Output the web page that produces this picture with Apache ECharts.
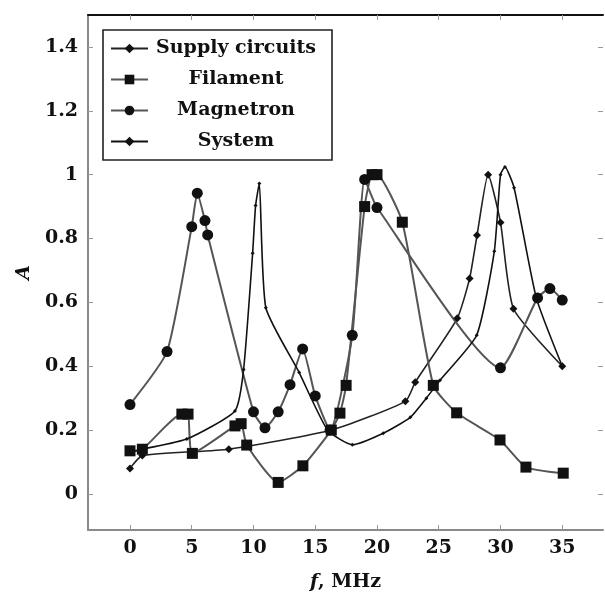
<!DOCTYPE html>
<html>
<head>
<meta charset="utf-8">
<title>A(f)</title>
<script src="https://cdn.jsdelivr.net/npm/echarts@6/dist/echarts.min.js"></script>
<style>
  html, body { margin: 0; padding: 0; background: #fff; }
  #chart { width: 605px; height: 597px; }
</style>
</head>
<body>
<div id="chart"></div>
<script>
// values
var supplyF   = [0, 1, 8, 16.3, 22.3, 23.1, 26.5, 27.5, 28.1, 29.0, 30.0, 31.05, 35];
var supplyA   = [0.08, 0.12, 0.14, 0.2, 0.29, 0.35, 0.55, 0.675, 0.81, 1.0, 0.85, 0.58, 0.4];

var filamentF = [0, 1, 4.2, 4.7, 5.05, 8.5, 9.0, 9.45, 12, 14, 16.3, 17, 17.5, 19, 19.6, 20, 22.05, 24.56, 26.45, 29.96, 32.06, 35.08];
var filamentA = [0.135, 0.14, 0.25, 0.25, 0.127, 0.213, 0.22, 0.153, 0.036, 0.088, 0.2, 0.253, 0.34, 0.9, 1.0, 1.0, 0.851, 0.34, 0.254, 0.169, 0.084, 0.065];

var magnetronF = [0, 3, 5, 5.45, 6.07, 6.29, 10, 10.93, 12, 12.96, 13.98, 15, 16.2, 18, 19, 20, 30, 33, 34, 35];
var magnetronA = [0.28, 0.446, 0.837, 0.942, 0.856, 0.811, 0.257, 0.207, 0.257, 0.342, 0.454, 0.307, 0.2, 0.497, 0.985, 0.897, 0.395, 0.614, 0.643, 0.607];

var systemF = [0, 1, 4.6, 8.5, 9.2, 9.93, 10.17, 10.47, 11.0, 13.7, 16.0, 18.0, 20.5, 22.7, 24.0, 25.1, 28.07, 29.5, 30.0, 30.36, 31.1, 32.9, 35];
var systemA = [0.13, 0.14, 0.172, 0.26, 0.39, 0.754, 0.903, 0.972, 0.583, 0.38, 0.2, 0.154, 0.19, 0.24, 0.30, 0.356, 0.497, 0.76, 1.0, 1.024, 0.959, 0.614, 0.4];

var xTicks = [0, 5, 10, 15, 20, 25, 30, 35];
var yTicks = [0, 0.2, 0.4, 0.6, 0.8, 1, 1.2, 1.4];

function pairs(f, a) {
    return f.map(function (v, i) { return [v, a[i]]; });
}

var font = 'DejaVu Serif';
var chart = echarts.init(document.getElementById('chart'));

var xMin = -3.4, xMax = 38.3;
var yMin = -0.113, yMax = 1.5;

function lineSeries(name, data, symbol, size, color, width) {
    return {
        name: name,
        type: 'line',
        data: data,
        smooth: 0.18,
        symbol: symbol,
        symbolSize: size,
        itemStyle: { color: '#111' },
        lineStyle: { color: color, width: width },
        z: 3
    };
}

var option = {
    animation: false,
    backgroundColor: '#fff',
    grid: { left: 88, right: 2, top: 15, bottom: 63 },
    legend: {
        orient: 'vertical',
        left: 103,
        top: 30,
        padding: [9, 13, 9, 7],
        itemGap: 12,
        itemWidth: 37,
        itemHeight: 12,
        backgroundColor: '#fff',
        borderColor: '#222',
        borderWidth: 1.6,
        data: ['Supply circuits', 'Filament', 'Magnetron', 'System'],
        formatter: '{c|{name}}',
        textStyle: {
            rich: {
                c: {
                    width: 166,
                    align: 'center',
                    lineHeight: 21,
                    fontFamily: font,
                    fontWeight: 'bold',
                    fontSize: 19,
                    color: '#111'
                }
            }
        }
    },
    xAxis: [
        {
            type: 'value',
            position: 'bottom',
            min: xMin,
            max: xMax,
            name: '{i|f}, MHz',
            nameLocation: 'middle',
            nameGap: 43,
            nameTextStyle: {
                fontFamily: font, fontWeight: 'bold', fontSize: 19, color: '#111',
                rich: { i: { fontStyle: 'italic', fontFamily: font, fontWeight: 'bold', fontSize: 19, color: '#111' } }
            },
            axisLine: { show: true, onZero: false, lineStyle: { color: '#8a8a8a', width: 2 } },
            axisTick: { show: true, inside: true, length: 5, customValues: xTicks, lineStyle: { color: '#999' } },
            axisLabel: { customValues: xTicks, margin: 9, fontFamily: font, fontWeight: 'bold', fontSize: 19, color: '#111' },
            splitLine: { show: false }
        },
        {
            type: 'value',
            position: 'top',
            min: xMin,
            max: xMax,
            axisLine: { show: true, onZero: false, lineStyle: { color: '#111', width: 2 } },
            axisTick: { show: true, inside: true, length: 5, customValues: xTicks, lineStyle: { color: '#999' } },
            axisLabel: { show: false },
            splitLine: { show: false }
        }
    ],
    yAxis: [
        {
            type: 'value',
            position: 'left',
            min: yMin,
            max: yMax,
            name: 'A',
            nameLocation: 'middle',
            nameGap: 51,
            nameTextStyle: { fontFamily: font, fontStyle: 'italic', fontWeight: 'bold', fontSize: 19, color: '#111' },
            axisLine: { show: true, onZero: false, lineStyle: { color: '#8a8a8a', width: 2 } },
            axisTick: { show: true, inside: true, length: 5, customValues: yTicks, lineStyle: { color: '#999' } },
            axisLabel: { customValues: yTicks, margin: 10, fontFamily: font, fontWeight: 'bold', fontSize: 19, color: '#111' },
            splitLine: { show: false }
        },
        {
            type: 'value',
            position: 'right',
            min: yMin,
            max: yMax,
            axisLine: { show: false, onZero: false },
            axisTick: { show: true, inside: true, length: 5, customValues: yTicks, lineStyle: { color: '#999' } },
            axisLabel: { show: false },
            splitLine: { show: false }
        }
    ],
    series: [
        lineSeries('Supply circuits', pairs(supplyF, supplyA), 'diamond', 8, '#222', 1.6),
        lineSeries('Filament', pairs(filamentF, filamentA), 'rect', 11, '#555', 2),
        lineSeries('Magnetron', pairs(magnetronF, magnetronA), 'circle', 11, '#555', 2),
        lineSeries('System', pairs(systemF, systemA), 'diamond', 4, '#111', 1.6)
    ]
};

chart.setOption(option);
</script>
</body>
</html>
